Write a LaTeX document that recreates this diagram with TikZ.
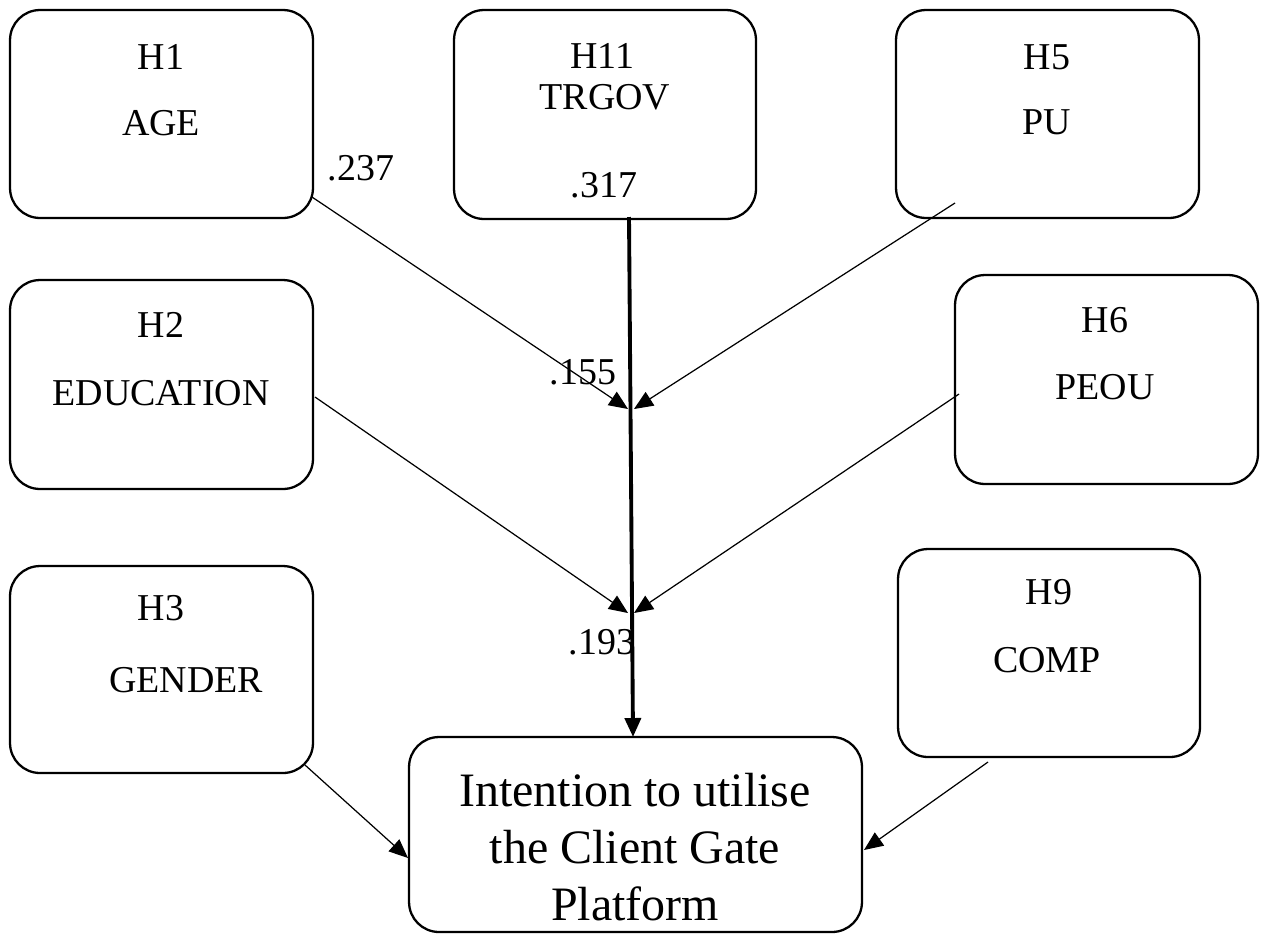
\documentclass[tikz,border=0pt]{standalone}
\usepackage{fontspec}
\setmainfont{Liberation Serif}
\usetikzlibrary{arrows.meta}
\begin{document}
\begin{tikzpicture}[x=0.02cm,y=-0.02cm,
  hbox/.style={draw, line width=1.3pt, rounded corners=0.6cm, minimum width=6.06cm, minimum height=4.16cm, inner sep=0pt},
  lbl/.style={font=\fontsize{21.6pt}{25pt}\selectfont, inner sep=0pt},
  big/.style={font=\fontsize{27.3pt}{32.4pt}\selectfont, inner sep=0pt, align=center},
  link/.style={line width=0.7pt, -{Triangle[length=0.38cm,width=0.32cm]}},
  thickl/.style={line width=2.2pt, -{Triangle[length=0.38cm,width=0.32cm]}}
]
\useasboundingbox (0,0) rectangle (1266,947);
% boxes
\node[hbox] (age) at (161.5,114) {};
\node[hbox, minimum width=6.04cm, minimum height=4.18cm] (trgov) at (605,114.5) {};
\node[hbox] (pu) at (1047.5,114) {};
\node[hbox, minimum height=4.18cm] (edu) at (161.5,384.5) {};
\node[hbox, minimum height=4.18cm] (peou) at (1106.5,379.5) {};
\node[hbox, minimum height=4.14cm] (gender) at (161.5,669.5) {};
\node[hbox, minimum width=6.04cm] (comp) at (1049,653) {};
\node[hbox, minimum width=9.06cm, minimum height=3.9cm] (intent) at (635.5,834.5) {};
% labels
\node[lbl] (l-h1) at (161,57) {H1};
\node[lbl] (l-age) at (161,123) {AGE};
\node[lbl] (l-h11) at (602,56) {H11};
\node[lbl] (l-trgov) at (605,97) {TRGOV};
\node[lbl] (l-317) at (604,185) {.317};
\node[lbl] (l-h5) at (1047,57) {H5};
\node[lbl] (l-pu) at (1047,122) {PU};
\node[lbl] (l-h2) at (161,325) {H2};
\node[lbl] (l-edu) at (161,393) {EDUCATION};
\node[lbl] (l-h6) at (1105,320) {H6};
\node[lbl] (l-peou) at (1105,387) {PEOU};
\node[lbl] (l-h3) at (161,608) {H3};
\node[lbl] (l-gender) at (186,680) {GENDER};
\node[lbl] (l-h9) at (1049,592) {H9};
\node[lbl] (l-comp) at (1047,660) {COMP};
\node[big] (l-int) at (635,847) {Intention to utilise\\the Client Gate\\Platform};
\node[lbl] (n237) at (361,168) {.237};
\node[lbl] (n155) at (583,372) {.155};
\node[lbl] (n193) at (602,642) {.193};
% coordinates
\coordinate (s-age) at (312,197);
\coordinate (s-edu) at (315,397);
\coordinate (s-pu) at (955,203);
\coordinate (s-peou) at (959,394);
\coordinate (s-gender) at (305,765);
\coordinate (s-comp) at (988,762);
\coordinate (s-tr) at (629,217);
\coordinate (e-tr) at (633,737);
\coordinate (j1l) at (628,409);
\coordinate (j1r) at (634,409);
\coordinate (j2l) at (628,613);
\coordinate (j2r) at (634,613);
\coordinate (e-gender) at (408,858);
\coordinate (e-comp) at (864,850);
% connectors
\draw[thickl] (s-tr) -- (e-tr);
\draw[link] (s-age) -- (j1l);
\draw[link] (s-pu) -- (j1r);
\draw[link] (s-edu) -- (j2l);
\draw[link] (s-peou) -- (j2r);
\draw[link] (s-gender) -- (e-gender);
\draw[link] (s-comp) -- (e-comp);
\end{tikzpicture}
\end{document}
